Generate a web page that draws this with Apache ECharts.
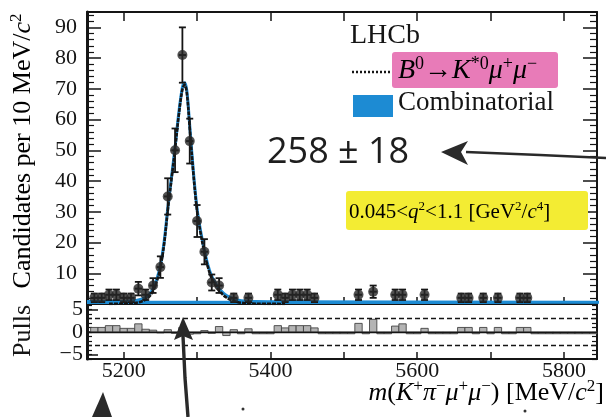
<!DOCTYPE html>
<html><head><meta charset="utf-8">
<script src="https://cdn.jsdelivr.net/npm/echarts@6/dist/echarts.min.js"></script>
<style>html,body{margin:0;padding:0;background:#fff}#c{width:606px;height:417px}</style>
</head><body><div id="c"></div>
<script>
// ---------------- data ----------------
const xMin = 5150, xMax = 5845;
const pointMass  = [5160,5170,5180,5190,5200,5210,5220,5230,5240,5250,5260,5270,5280,5290,5300,5310,5320,5330,5350,5370,5410,5420,5430,5440,5450,5460,5520,5540,5570,5580,5610,5660,5670,5690,5710,5740,5750];
const pointCount = [2,2,3,3,2,2,5,3,6,12,35,50,81,53,27,17,7,6,2,2,3,2,3,3,3,2,3,4,3,3,3,2,2,2,2,2,2];
const pointErr   = [1.4,1.4,1.7,1.7,1.4,1.4,2.2,1.7,2.4,3.5,5.9,7.1,9.0,7.3,5.2,4.1,2.6,2.4,1.4,1.4,1.7,1.4,1.7,1.7,1.7,1.4,1.7,2.0,1.7,1.7,1.7,1.4,1.4,1.4,1.4,1.4,1.4];

const fitMass   = [5150,5180,5200,5210,5220,5230,5235,5240,5245,5250,5255,5260,5265,5270,5275,5280,5283,5286,5290,5295,5300,5305,5310,5315,5320,5325,5330,5340,5350,5360,5380,5420,5850];
const fitTotal  = [0.8,0.8,0.85,1.0,1.3,2.2,3.2,5.0,8.0,12.5,20,31,41,51,62,70.5,72,69.5,58,43,31,23.5,17.5,12.5,9.0,6.8,5.0,2.8,1.7,1.1,0.8,0.7,0.6];
const sigMass   = [5180,5200,5210,5220,5230,5235,5240,5245,5250,5255,5260,5265,5270,5275,5280,5283,5286,5290,5295,5300,5305,5310,5315,5320,5325,5330,5340,5350,5360,5380,5420];
const sigValues = [0.05,0.1,0.25,0.55,1.45,2.45,4.25,7.25,11.8,19.3,30.3,40.3,50.3,61.3,69.8,71.3,68.8,57.3,42.3,30.3,22.8,16.8,11.8,8.3,6.1,4.3,2.1,1.0,0.4,0.1,0.02];
const combMass   = [5150,5300,5500,5700,5850];
const combValues = [0.75,0.7,0.65,0.6,0.55];

const pullMass = [5160,5170,5180,5190,5200,5210,5220,5230,5240,5250,5260,5270,5280,5290,5300,5310,5320,5330,5340,5350,5360,5370,5380,5390,5400,5410,5420,5430,5440,5450,5460,5470,5480,5490,5500,5510,5520,5530,5540,5550,5560,5570,5580,5590,5600,5610,5620,5630,5640,5650,5660,5670,5680,5690,5700,5710,5720,5730,5740,5750,5760,5770,5780,5790,5800,5810,5820,5830,5840];
const pullValues = [1.0,1.0,1.4,1.4,0.8,0.8,1.8,0.6,0.4,-0.2,0.5,-0.3,1.0,-0.5,-0.4,0.3,-0.3,1.2,-0.8,0.5,-0.4,0.7,-0.4,-0.4,-0.4,1.4,0.9,1.4,1.4,1.4,0.9,-0.4,-0.4,-0.4,-0.4,-0.4,1.9,-0.4,2.8,-0.4,-0.4,1.3,1.8,-0.4,-0.4,0.8,-0.4,-0.4,-0.4,-0.4,1.0,1.0,-0.4,1.0,-0.4,1.0,-0.4,-0.4,1.0,1.0,-0.4,-0.4,-0.4,-0.4,-0.4,-0.4,-0.4,-0.4,-0.4];

const xTickValues  = [5200,5300,5400,5500,5600,5700,5800];
const xLabelValues = [5200,5400,5600,5800];
const yLabelValues = [10,20,30,40,50,60,70,80,90];
const pullLabelValues = [-5,0,5];
const pullMajorTicks  = [-5,0,5];
const pullBand = [3,-3];

// ---------------- styling ----------------
const serif = "'Liberation Serif','Times New Roman',serif";
const ink = '#151515';
const blue = '#1d8bd3';

function rich(S){
  return {
    n:{fontFamily:serif,fontSize:S,color:ink,lineHeight:Math.round(S*1.15)},
    i:{fontFamily:serif,fontSize:S,fontStyle:'italic',color:ink,lineHeight:Math.round(S*1.15)},
    s:{fontFamily:serif,fontSize:Math.round(S*0.64),color:ink,lineHeight:Math.round(S*0.72),verticalAlign:'top'}
  };
}

const chart = echarts.init(document.getElementById('c'), null, {renderer:'canvas'});

const lineAx = w => ({show:true,onZero:false,lineStyle:{color:ink,width:w}});

const option = {
  animation:false,
  backgroundColor:'#fff',
  grid:[
    {left:87,top:12,width:510,height:292},
    {left:87,top:304,width:510,height:55}
  ],
  xAxis:[
    {gridIndex:0,type:'value',min:xMin,max:xMax,position:'bottom',axisLine:lineAx(2),
     axisTick:{inside:true,length:7,customValues:xTickValues,lineStyle:{color:ink,width:1.5}},
     axisLabel:{show:false},splitLine:{show:false}},
    {gridIndex:0,type:'value',min:xMin,max:xMax,position:'top',axisLine:lineAx(2),
     axisTick:{inside:true,length:9,customValues:xTickValues,lineStyle:{color:ink,width:1.5}},
     axisLabel:{show:false},splitLine:{show:false}},
    {gridIndex:1,type:'value',min:xMin,max:xMax,position:'bottom',axisLine:lineAx(2),
     axisTick:{inside:true,length:7,customValues:xTickValues,lineStyle:{color:ink,width:1.5}},
     axisLabel:{customValues:xLabelValues,fontFamily:serif,fontSize:22,color:ink,margin:1,
       formatter:v=>String(v)},
     splitLine:{show:false}}
  ],
  yAxis:[
    {gridIndex:0,type:'value',min:0,max:95,interval:10,position:'left',axisLine:lineAx(3),
     axisTick:{inside:true,length:14,lineStyle:{color:ink,width:1.5}},
     minorTick:{show:true,splitNumber:5,length:7,lineStyle:{color:ink,width:1.2}},
     axisLabel:{customValues:yLabelValues,fontFamily:serif,fontSize:22,color:ink,margin:10},
     splitLine:{show:false},minorSplitLine:{show:false}},
    {gridIndex:0,type:'value',min:0,max:95,interval:10,position:'right',axisLine:lineAx(2),
     axisTick:{inside:true,length:14,lineStyle:{color:ink,width:1.5}},
     minorTick:{show:true,splitNumber:5,length:7,lineStyle:{color:ink,width:1.2}},
     axisLabel:{show:false},splitLine:{show:false},minorSplitLine:{show:false}},
    {gridIndex:1,type:'value',min:-6,max:6.2,interval:1,position:'left',axisLine:lineAx(3),
     axisTick:{inside:true,length:5,lineStyle:{color:ink,width:1.2}},
     axisLabel:{show:false},splitLine:{show:false}},
    {gridIndex:1,type:'value',min:-6,max:6.2,position:'left',axisLine:{show:false},
     axisTick:{inside:true,length:11,customValues:pullMajorTicks,lineStyle:{color:ink,width:1.5}},
     axisLabel:{customValues:pullLabelValues,fontFamily:serif,fontSize:22,color:ink,margin:4,
       formatter:v=>String(v).replace('-','\u2212')},
     splitLine:{show:false}},
    {gridIndex:1,type:'value',min:-6,max:6.2,interval:1,position:'right',axisLine:lineAx(2),
     axisTick:{inside:true,length:5,lineStyle:{color:ink,width:1.2}},
     axisLabel:{show:false},splitLine:{show:false}}
  ],
  series:[
    {type:'line',name:'Combinatorial',xAxisIndex:0,yAxisIndex:0,data:combMass.map((m,i)=>[m,combValues[i]]),
     showSymbol:false,lineStyle:{color:blue,width:2},areaStyle:{color:blue,opacity:1},z:2},
    {type:'line',name:'total',xAxisIndex:0,yAxisIndex:0,data:fitMass.map((m,i)=>[m,fitTotal[i]]),
     showSymbol:false,smooth:0.35,lineStyle:{color:blue,width:3},z:3},
    {type:'line',name:'signal',xAxisIndex:0,yAxisIndex:0,data:sigMass.map((m,i)=>[m,sigValues[i]]),
     showSymbol:false,smooth:0.35,lineStyle:{color:ink,width:2.6,type:[4,1]},z:4},
    {type:'custom',name:'errors',xAxisIndex:0,yAxisIndex:0,
     data:pointMass.map((m,i)=>[m,pointCount[i],pointErr[i]]),
     renderItem:function(params,api){
       const x=api.value(0), y=api.value(1), e=api.value(2);
       const lo=api.coord([x,Math.max(0,y-e)]), hi=api.coord([x,y+e]);
       const l=api.coord([x-5,y]), r=api.coord([x+5,y]);
       const st={stroke:ink,lineWidth:1.8};
       return {type:'group',children:[
         {type:'line',shape:{x1:lo[0],y1:lo[1],x2:hi[0],y2:hi[1]},style:st},
         {type:'line',shape:{x1:hi[0]-3.5,y1:hi[1],x2:hi[0]+3.5,y2:hi[1]},style:st},
         {type:'line',shape:{x1:lo[0]-3.5,y1:lo[1],x2:lo[0]+3.5,y2:lo[1]},style:st},
         {type:'line',shape:{x1:l[0],y1:l[1],x2:r[0],y2:r[1]},style:{stroke:ink,lineWidth:2}}
       ]};
     },z:5},
    {type:'scatter',name:'data',xAxisIndex:0,yAxisIndex:0,data:pointMass.map((m,i)=>[m,pointCount[i]]),
     symbol:'circle',symbolSize:10,itemStyle:{color:'#262626'},z:6},
    {type:'custom',name:'pulls',xAxisIndex:2,yAxisIndex:2,
     data:pullMass.map((m,i)=>[m,pullValues[i]]),
     renderItem:function(params,api){
       const x=api.value(0), v=api.value(1);
       const a=api.coord([x-5,Math.max(v,0)]), b=api.coord([x+5,Math.min(v,0)]);
       return {type:'rect',shape:{x:a[0],y:a[1],width:b[0]-a[0],height:b[1]-a[1]},
         style:{fill:'#b4b4b4',stroke:'#444',lineWidth:0.9}};
     },
     markLine:{silent:true,symbol:'none',label:{show:false},
       data:[
         {yAxis:pullBand[0],lineStyle:{color:ink,width:1.4,type:[5,3]}},
         {yAxis:pullBand[1],lineStyle:{color:ink,width:1.4,type:[5,3]}},
         {yAxis:0,lineStyle:{color:ink,width:1.4,type:'solid'}}
       ]},
     z:3}
  ],
  graphic:[
    // highlighter marks
    {type:'rect',shape:{x:392,y:52,width:166,height:36,r:3},style:{fill:'#e87bb8'},z:1},
    {type:'rect',shape:{x:346,y:191,width:242,height:39,r:3},style:{fill:'#f3ec33'},z:1},
    // legend
    {type:'text',x:350,y:36,style:{text:'LHCb',font:'28px '+serif,fill:ink,verticalAlign:'middle'},z:10},
    {type:'line',shape:{x1:352,y1:72,x2:390,y2:72},style:{stroke:ink,lineWidth:2.4,lineDash:[2,2]},z:10},
    {type:'text',x:398,y:71,style:{text:'{i|B}{s|0}{n|\u2192}{i|K}{s|*0}{i|\u03bc}{s|+}{i|\u03bc}{s|\u2212}',rich:rich(28),verticalAlign:'middle'},z:10},
    {type:'rect',shape:{x:353,y:95,width:40,height:22},style:{fill:blue},z:10},
    {type:'text',x:398,y:103,style:{text:'Combinatorial',font:'27px '+serif,fill:ink,verticalAlign:'middle'},z:10},
    {type:'text',x:349,y:212,style:{text:'{n|0.045<}{i|q}{s|2}{n|<1.1 [GeV}{s|2}{n|/}{i|c}{s|4}{n|]}',rich:rich(21),verticalAlign:'middle'},z:10},
    // axis titles
    {type:'text',x:23,y:151,rotation:Math.PI/2,style:{text:'{n|Candidates per 10 MeV/}{i|c}{s|2}',rich:rich(26),align:'center',verticalAlign:'middle'},z:10},
    {type:'text',x:23,y:331,rotation:Math.PI/2,style:{text:'Pulls',font:'26px '+serif,fill:ink,align:'center',verticalAlign:'middle'},z:10},
    {type:'text',x:604,y:393,style:{text:'{i|m}{n|(}{i|K}{s|+}{i|\u03c0}{s|\u2212}{i|\u03bc}{s|+}{i|\u03bc}{s|\u2212}{n|) [MeV/}{i|c}{s|2}{n|]}',rich:rich(26),align:'right',verticalAlign:'middle'},z:10},
    // handwriting
    {type:'text',x:267,y:153,style:{text:'258 \u00b1 18',font:"400 36px 'Open Sans','Noto Sans',sans-serif",fill:'#1e1e1e',verticalAlign:'middle'},z:10},
    {type:'polyline',shape:{points:[[606,158],[540,155],[466,152]]},style:{stroke:'#2a2a2a',lineWidth:2.6,fill:null},z:10},
    {type:'polygon',shape:{points:[[441,152],[468,141],[461,152],[468,165]]},style:{fill:'#2a2a2a'},z:10},
    {type:'polyline',shape:{points:[[188,417],[185,378],[183,336]]},style:{stroke:'#2a2a2a',lineWidth:3.4,fill:null},z:10},
    {type:'polygon',shape:{points:[[183,317],[174,340],[183,336],[193,340]]},style:{fill:'#2a2a2a'},z:10},
    {type:'polygon',shape:{points:[[103,392],[92,417],[112,417]]},style:{fill:'#2a2a2a'},z:10},
    {type:'circle',shape:{cx:243,cy:409,r:1.5},style:{fill:'#333'},z:10},
    {type:'circle',shape:{cx:525,cy:411,r:1.5},style:{fill:'#333'},z:10}
  ]
};
chart.setOption(option);
</script></body></html>
